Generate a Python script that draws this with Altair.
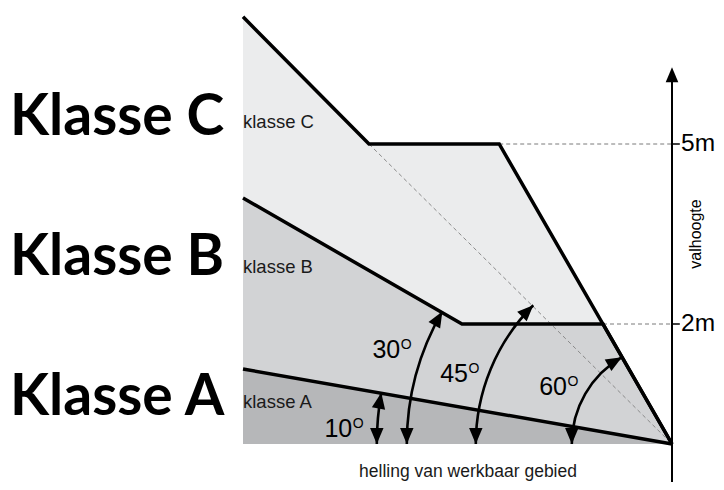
import altair as alt
import pandas as pd

# ---- data (metres; apex of the slopes at x=0, ground y=0) ----
class_names = ["C", "B", "A"]
class_x = {
    "C": [-7.15, -5.05, -2.88, 0.0],
    "B": [-7.15, -3.50, -1.15, 0.0],
    "A": [-7.15, 0.0],
}
class_y = {
    "C": [7.12, 5.0, 5.0, 0.0],
    "B": [4.10, 2.0, 2.0, 0.0],
    "A": [1.25, 0.0],
}
class_fill = {"C": "#ebeced", "B": "#d2d3d5", "A": "#b6b7b9"}

angle_deg = [10, 30, 45, 60]
angle_radius = [4.92, 4.42, 3.27, 1.67]
angle_label_x = [-5.33, -4.53, -3.40, -1.75]
angle_label_y = [0.12, 1.43, 1.03, 0.82]

height_ticks = [5, 2]
height_labels = ["5m", "2m"]
height_dash_x = [-2.88, -1.15]

small_labels = ["klasse C", "klasse B", "klasse A"]
small_label_y = [5.37, 2.95, 0.70]
big_labels = ["Klasse C", "Klasse B", "Klasse A"]
big_label_y = [5.15, 2.82, 0.48]

PX = 60.0  # pixels per metre
W, H = 708, 474
X0, Y0 = 664.0, 436.0  # pixel position of apex within the plot
xdom = [-X0 / PX, (W - X0) / PX]
ydom = [(Y0 - H) / PX, Y0 / PX]

xs = alt.Scale(domain=xdom, range=[0, W], nice=False, zero=False)
ys = alt.Scale(domain=ydom, range=[H, 0], nice=False, zero=False)
X = lambda f: alt.X(f, type="quantitative", scale=xs, axis=None)
Y = lambda f: alt.Y(f, type="quantitative", scale=ys, axis=None)

layers = []
for c in class_names:
    df = pd.DataFrame({"x": class_x[c], "y": class_y[c], "y0": [0.0] * len(class_x[c])})
    layers.append(
        alt.Chart(df).mark_area(fill=class_fill[c], fillOpacity=1, stroke=None).encode(
            x=X("x"), y=Y("y"), y2=alt.Y2("y0"))
    )

# dashed 45-degree guide
guide = pd.DataFrame({"x": [class_x["C"][1], 0.0], "y": [class_y["C"][1], 0.0]})
layers.append(alt.Chart(guide).mark_line(color="#8a8a8a", strokeWidth=1, strokeDash=[4, 3]).encode(
    x=X("x"), y=Y("y")))

# horizontal dashed height lines
hd = pd.DataFrame({"x": height_dash_x, "x2": [0.0] * 2, "y": height_ticks})
layers.append(alt.Chart(hd).mark_rule(color="#7a7a7a", strokeWidth=1, strokeDash=[4, 3]).encode(
    x=X("x"), x2="x2", y=Y("y")))
ht = pd.DataFrame({"x": [0.0] * 2, "x2": [0.13] * 2, "y": height_ticks})
layers.append(alt.Chart(ht).mark_rule(color="black", strokeWidth=1.5).encode(
    x=X("x"), x2="x2", y=Y("y")))

# class boundary lines
for c in class_names:
    df = pd.DataFrame({"x": class_x[c], "y": class_y[c]})
    layers.append(alt.Chart(df).mark_line(color="black", strokeWidth=3.5, strokeJoin="miter").encode(
        x=X("x"), y=Y("y"), order="x:Q"))

# vertical axis with arrow
ax = pd.DataFrame({"x": [0.0], "y": [ydom[0]], "y2": [6.05]})
layers.append(alt.Chart(ax).mark_rule(color="black", strokeWidth=2).encode(
    x=X("x"), y=Y("y"), y2="y2"))
arrow_up = pd.DataFrame({"x": [0.0], "y": [6.28]})
layers.append(alt.Chart(arrow_up).mark_point(
    shape="M0,0L-0.42,1L0.42,1Z", filled=True, color="black", opacity=1, size=(2 * 15) ** 2, strokeWidth=0
).encode(x=X("x"), y=Y("y")))

# angle arcs
arcs = pd.DataFrame({"deg": angle_deg, "r": angle_radius, "cx": 0.0, "cy": 0.0})
rs = alt.Scale(type="linear", domain=[0, 10], range=[0, 10 * PX], zero=True)
layers.append(
    alt.Chart(arcs).mark_arc(filled=False, stroke="black", strokeWidth=2.6)
    .transform_calculate(t1="3*PI/2", t2="3*PI/2 + datum.deg*PI/180")
    .encode(
        x=X("cx"), y=Y("cy"),
        theta=alt.Theta("t1:Q", scale=None), theta2="t2:Q",
        radius=alt.Radius("r:Q", scale=rs), radius2="r:Q",
    )
)
# arrow heads at both ends
head_shape = "M0,0L-0.42,1L0.42,1Z"
layers.append(
    alt.Chart(arcs).mark_point(shape=head_shape, filled=True, color="black", opacity=1,
                               size=(2 * 16) ** 2, strokeWidth=0)
    .transform_calculate(hx="-datum.r*cos(datum.deg*PI/180)", hy="datum.r*sin(datum.deg*PI/180)")
    .encode(x=X("hx"), y=Y("hy"), angle=alt.Angle("deg:Q", scale=None))
)
layers.append(
    alt.Chart(arcs).mark_point(shape=head_shape, filled=True, color="black", opacity=1,
                               size=(2 * 16) ** 2, strokeWidth=0, angle=180)
    .transform_calculate(hx="-datum.r", hy="0")
    .encode(x=X("hx"), y=Y("hy"))
)

# angle labels "30" + superscript "O"
al = pd.DataFrame({"num": [str(d) for d in angle_deg], "x": angle_label_x, "y": angle_label_y})
layers.append(alt.Chart(al).mark_text(font="Liberation Sans", fontSize=25, align="right",
                                      baseline="alphabetic", color="black").encode(
    x=X("x"), y=Y("y"), text="num:N"))
layers.append(alt.Chart(al).mark_text(font="Liberation Sans", fontSize=14, align="left",
                                      baseline="alphabetic", color="black", dx=0.5, dy=-9).encode(
    x=X("x"), y=Y("y"), text=alt.value("O")))

# small class labels
sl = pd.DataFrame({"t": small_labels, "x": -7.15, "y": small_label_y})
layers.append(alt.Chart(sl).mark_text(font="Liberation Sans", fontSize=18.5, align="left",
                                      baseline="middle", color="#1a1a1a", dx=0).encode(
    x=X("x"), y=Y("y"), text="t:N"))

# big class labels
bl = pd.DataFrame({"t": big_labels, "x": (10 - 672) / PX, "y": big_label_y})
layers.append(alt.Chart(bl).mark_text(font="Lato", fontWeight="bold", fontSize=57, align="left",
                                      baseline="alphabetic", color="black").encode(
    x=X("x"), y=Y("y"), text="t:N"))

# height labels
hl = pd.DataFrame({"t": height_labels, "x": 0.15, "y": height_ticks})
layers.append(alt.Chart(hl).mark_text(font="Liberation Sans", fontSize=24.5, align="left",
                                      baseline="middle", color="black").encode(
    x=X("x"), y=Y("y"), text="t:N"))

# axis titles
vt = pd.DataFrame({"t": ["valhoogte"], "x": [0.40], "y": [(444 - 234) / PX]})
layers.append(alt.Chart(vt).mark_text(font="Liberation Sans", fontSize=16, align="center",
                                      baseline="middle", angle=270, color="black").encode(
    x=X("x"), y=Y("y"), text="t:N"))
xt = pd.DataFrame({"t": ["helling van werkbaar gebied"], "x": [-3.40], "y": [-0.47]})
layers.append(alt.Chart(xt).mark_text(font="Liberation Sans", fontSize=17.5, align="center",
                                      baseline="middle", color="#1a1a1a").encode(
    x=X("x"), y=Y("y"), text="t:N"))

chart = alt.layer(*layers).properties(
    width=W, height=H, padding=0, autosize=alt.AutoSizeParams(type="none"),
    background="white",
).configure_view(stroke=None, clip=False)

chart.save("out.html", embed_options={"renderer": "svg", "actions": False})
